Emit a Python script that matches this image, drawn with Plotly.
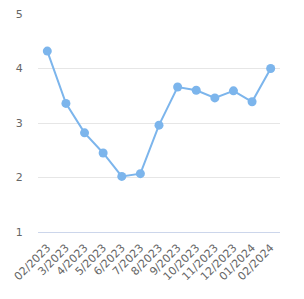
import plotly.graph_objects as go

categories = ["02/2023", "3/2023", "4/2023", "5/2023", "6/2023", "7/2023", "8/2023",
              "9/2023", "10/2023", "11/2023", "12/2023", "01/2024", "02/2024"]
values = [4.32, 3.36, 2.82, 2.45, 2.02, 2.07, 2.96, 3.66, 3.60, 3.46, 3.59, 3.39, 4.0]
y_ticks = [1, 2, 3, 4, 5]

fig = go.Figure(go.Scatter(
    x=list(range(len(categories))), y=values, mode="lines+markers",
    line=dict(color="#7cb5ec", width=2),
    marker=dict(color="#7cb5ec", size=9),
    hoverinfo="skip",
))

fig.update_layout(
    width=304, height=299,
    margin=dict(l=38, r=24, t=8, b=67),
    paper_bgcolor="white", plot_bgcolor="white",
    showlegend=False,
    font=dict(family="DejaVu Sans", size=11, color="#666666"),
    xaxis=dict(
        range=[-0.5, 12.5], tickmode="array",
        tickvals=list(range(len(categories))), ticktext=categories,
        tickangle=-45, showgrid=False, zeroline=False,
        showline=True, linecolor="#ccd6eb", linewidth=1,
        ticks="outside", ticklen=4, tickcolor="rgba(0,0,0,0)",
        tickfont=dict(size=11, color="#666666"),
    ),
    yaxis=dict(
        range=[1, 5], tickmode="array", tickvals=y_ticks,
        showgrid=True, gridcolor="#e6e6e6", gridwidth=1, zeroline=False,
        ticks="outside", ticklen=12, tickcolor="rgba(0,0,0,0)",
        tickfont=dict(size=11, color="#666666"),
    ),
)

fig.write_html("out.html")
